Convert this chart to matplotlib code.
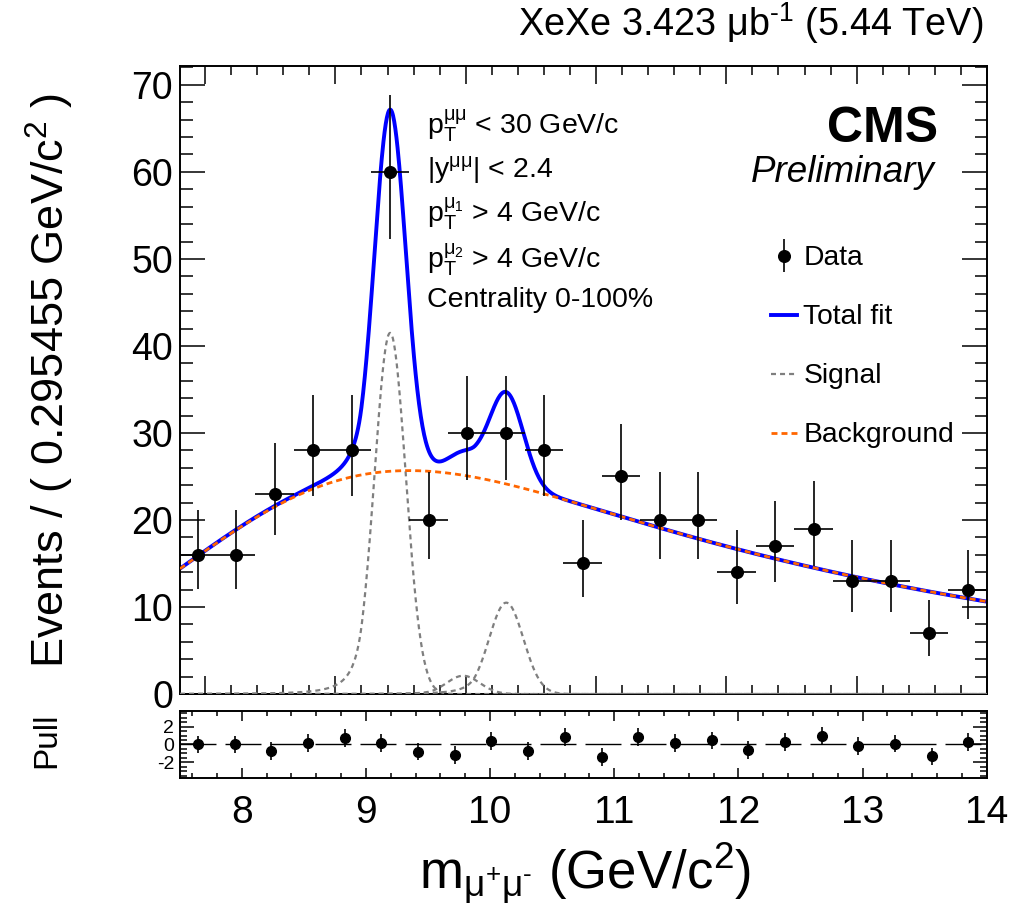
import math
import numpy as np
import matplotlib
matplotlib.use("Agg")
import matplotlib.pyplot as plt
from matplotlib.ticker import MultipleLocator
from matplotlib.legend_handler import HandlerErrorbar
from matplotlib.container import ErrorbarContainer

plt.rcParams['font.family'] = ['Liberation Sans', 'DejaVu Sans']
plt.rcParams['mathtext.fontset'] = 'custom'
plt.rcParams['mathtext.rm'] = 'Liberation Sans'
plt.rcParams['mathtext.it'] = 'Liberation Sans:italic'
plt.rcParams['mathtext.bf'] = 'Liberation Sans:bold'
plt.rcParams['axes.unicode_minus'] = False
plt.rcParams['lines.scale_dashes'] = False

# 22 bins of 0.295455 GeV/c^2 between 7.5 and 14
x_lo, x_hi, n_bins = 7.5, 14.0, 22
bin_width = (x_hi - x_lo) / n_bins
bin_centers = x_lo + bin_width * (np.arange(n_bins) + 0.5)

# dimuon counts for bins 1..21 (bin 0 falls left of the upper frame)
counts = np.array([16, 16, 23, 28, 28, 60, 20, 30, 30, 28,
                   15, 25, 20, 20, 14, 17, 19, 13, 13, 7, 12])

# pulls for all 22 bins
pulls = np.array([0.0, 0.0, -0.7, 0.2, 0.75, 0.2, -0.8, -1.2, 0.4, -0.75, 0.85,
                  -1.45, 0.85, 0.2, 0.45, -0.65, 0.3, 0.95, -0.2, 0.1, -1.35, 0.25])

# fit model: three Upsilon peaks (crystal ball) + erf * exp background
ups_pdg = np.array([9.4603, 10.0233, 10.3552])
m1S = 9.42
sigma1S = 0.12
peak_heights = np.array([41.5, 2.1, 10.5])
cb_alpha, cb_n = 1.8, 3.0
bkg_norm = 27.2      # events/bin at 10 GeV/c^2 (before turn-on)
bkg_slope = 4.25
erf_mean, erf_width = 8.36, 1.63


def crystal_ball(x, mean, sigma, alpha, n):
    t = (x - mean) / sigma
    a = abs(alpha)
    A = (n / a) ** n * np.exp(-a * a / 2)
    B = n / a - a
    out = np.exp(-0.5 * t * t)
    tail = t < -a
    out[tail] = A * (B - t[tail]) ** (-n)
    return out


erf = np.vectorize(math.erf)
xs = np.linspace(x_lo, x_hi, 1500)
bkg = bkg_norm * np.exp(-(xs - 10) / bkg_slope) * 0.5 * (1 + erf((xs - erf_mean) / erf_width))
peaks = []
for h, m in zip(peak_heights, ups_pdg):
    r = m / ups_pdg[0]
    peaks.append(h * crystal_ball(xs, m1S * r, sigma1S * r, cb_alpha, cb_n))
total = bkg + np.sum(peaks, axis=0)

# Poisson intervals (Gehrels approximation)
n = counts.astype(float)
err_hi = np.sqrt(n + 0.75) + 1
err_lo = n - n * (1 - 1 / (9 * n) - 1 / (3 * np.sqrt(n))) ** 3

fig = plt.figure(figsize=(10.12, 9.09), dpi=100)
fig.patch.set_facecolor('white')
ax = fig.add_axes([0.1779, 0.2365, 0.7974, 0.6912])
axp = fig.add_axes([0.1775, 0.1438, 0.7975, 0.0744])

# main panel
l_tot, = ax.plot(xs, total, color='#0000ff', lw=2.8, zorder=2)
for pk in peaks:
    l_sig, = ax.plot(xs, pk, color='#7f7f7f', lw=1.6, ls=(0, (3.6, 2.9)), zorder=3)
l_bkg, = ax.plot(xs, bkg, color='#ff6600', lw=2.0, ls=(0, (4.3, 2.9)), zorder=4)
data = ax.errorbar(bin_centers[1:], counts, xerr=bin_width / 2, yerr=[err_lo, err_hi],
                   fmt='o', color='black', ms=8.4, elinewidth=1.2, capsize=0, zorder=5)

ax.set_xlim(7.808, x_hi)
ax.set_ylim(0, 72.2)
ax.xaxis.set_major_locator(MultipleLocator(1))
ax.xaxis.set_minor_locator(MultipleLocator(0.2))
ax.yaxis.set_major_locator(MultipleLocator(10))
ax.yaxis.set_minor_locator(MultipleLocator(2))
ax.tick_params(which='both', direction='in', top=True, right=True, labelbottom=False, width=1.1)
ax.tick_params(axis='y', which='major', length=18, labelsize=27, pad=5)
ax.tick_params(axis='y', which='minor', length=9)
ax.tick_params(axis='x', which='major', length=13)
ax.tick_params(axis='x', which='minor', length=6.5)
for s in ax.spines.values():
    s.set_linewidth(1.4)

ax.legend([data, l_tot, l_sig, l_bkg], ['Data', 'Total fit', 'Signal', 'Background'],
          loc='upper left', bbox_to_anchor=(0.732, 0.714), frameon=False, fontsize=20.3,
          handlelength=0.94, handletextpad=0.22, labelspacing=1.17,
          borderpad=0, borderaxespad=0,
          handler_map={ErrorbarContainer: HandlerErrorbar(xerr_size=0, yerr_size=0.6)})

cuts = [r'$\mathregular{p_{T}^{μμ}}$ < 30 GeV/c',
        r'$\mathregular{|y^{μμ}|}$ < 2.4',
        r'$\mathregular{p_{T}^{μ_{1}}}$ > 4 GeV/c',
        r'$\mathregular{p_{T}^{μ_{2}}}$ > 4 GeV/c',
        'Centrality 0-100%']
cut_y = [134, 178, 222, 268, 307]
for txt, yp in zip(cuts, cut_y):
    fig.text(427 / 1012, 1 - yp / 909, txt, fontsize=20.5, ha='left', va='baseline')

fig.text(938 / 1012, 1 - 141.7 / 909, 'CMS', fontsize=36, fontweight='bold',
         ha='right', va='baseline')
fig.text(935 / 1012, 1 - 181.7 / 909, 'Preliminary', fontsize=26.5, style='italic',
         ha='right', va='baseline')
fig.text(983 / 1012, 1 - 36 / 909, 'XeXe 3.423 $\\mathregular{μb^{\u20101}}$ (5.44 TeV)',
         fontsize=27.3, ha='right', va='baseline')

# pull panel
axp.axhline(0, color='black', lw=1.0, ls=(0, (25.9, 6.5)), zorder=1)
axp.errorbar(bin_centers, pulls, yerr=1.0, fmt='o', color='black', ms=7,
             elinewidth=1.2, capsize=0, zorder=3)
axp.set_xlim(x_lo, x_hi)
axp.set_ylim(-3.8, 3.8)
axp.xaxis.set_major_locator(MultipleLocator(1))
axp.xaxis.set_minor_locator(MultipleLocator(0.2))
axp.yaxis.set_major_locator(MultipleLocator(2))
axp.yaxis.set_minor_locator(MultipleLocator(0.5))
axp.tick_params(which='both', direction='in', top=True, right=True, width=1.1)
axp.tick_params(axis='x', which='major', length=7.2, labelsize=28, pad=12)
axp.tick_params(axis='x', which='minor', length=3.6)
axp.tick_params(axis='y', which='major', length=10, labelsize=14, pad=4)
axp.tick_params(axis='y', which='minor', length=5)
for s in axp.spines.values():
    s.set_linewidth(1.4)

fig.text(585 / 1012, 1 - 888 / 909,
         '$\\mathregular{m_{μ^{+}μ^{\u2010}}}$ (GeV/c$\\mathregular{^{2}}$)',
         fontsize=38, ha='center', va='baseline')
fig.text(50 / 1012, 1 - 380 / 909, r'Events / ( 0.295455 GeV/c$\mathregular{^{2}}$ )',
         fontsize=32.5, rotation=90, ha='center', va='center')
fig.text(47 / 1012, 1 - 740 / 909, 'Pull', fontsize=24, rotation=90, ha='center', va='center')

fig.savefig('out.png', dpi=100)
